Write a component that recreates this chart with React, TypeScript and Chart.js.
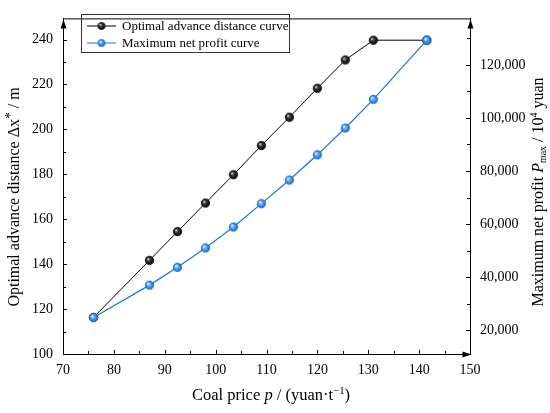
import React, { useEffect, useRef } from "react";
import { Chart, registerables } from "chart.js";

Chart.register(...registerables);

const coalPrice = [76, 87, 92.5, 98, 103.5, 109, 114.5, 120, 125.5, 131, 141.5];
const advanceDistance = [116.3, 141.7, 154.5, 167.2, 179.8, 192.8, 205.4, 218.3, 230.9, 239.7, 239.7];
const netProfit = [24800, 37000, 43700, 51000, 58900, 67700, 76600, 86100, 96200, 107000, 129300];

const xTicks = [70, 80, 90, 100, 110, 120, 130, 140, 150];
const leftTicks = [100, 120, 140, 160, 180, 200, 220, 240];
const rightTicks = [20000, 40000, 60000, 80000, 100000, 120000];

const seriesNames = ["Optimal advance distance curve", "Maximum net profit curve"];

const SERIF = '"Liberation Serif", "Times New Roman", serif';
const BLUE_LINE = "#1b74d6";

function makeSphere(kind: "black" | "blue", r: number): HTMLCanvasElement {
  const c = document.createElement("canvas");
  const s = Math.ceil(r * 2 + 2);
  c.width = s;
  c.height = s;
  const ctx = c.getContext("2d")!;
  const cx = s / 2;
  const cy = s / 2;
  const g = ctx.createRadialGradient(cx - r * 0.35, cy - r * 0.35, r * 0.1, cx, cy, r);
  if (kind === "black") {
    g.addColorStop(0, "#d0d0d0");
    g.addColorStop(0.3, "#444");
    g.addColorStop(1, "#000");
  } else {
    g.addColorStop(0, "#e8f4ff");
    g.addColorStop(0.35, "#5fb0f5");
    g.addColorStop(1, "#1767c8");
  }
  ctx.beginPath();
  ctx.arc(cx, cy, r, 0, Math.PI * 2);
  ctx.fillStyle = g;
  ctx.fill();
  ctx.lineWidth = 0.8;
  ctx.strokeStyle = kind === "black" ? "#111" : "#1d6fc9";
  ctx.stroke();
  return c;
}

type Seg = { t: string; italic?: boolean; scale?: number; dy?: number };

function drawSegs(ctx: CanvasRenderingContext2D, segs: Seg[], size: number, cx: number, cy: number, rot: number) {
  ctx.save();
  ctx.translate(cx, cy);
  ctx.rotate(rot);
  ctx.textBaseline = "middle";
  ctx.textAlign = "left";
  ctx.fillStyle = "#000";
  const fontOf = (s: Seg) => `${s.italic ? "italic " : ""}${size * (s.scale || 1)}px ${SERIF}`;
  let total = 0;
  for (const s of segs) {
    ctx.font = fontOf(s);
    total += ctx.measureText(s.t).width;
  }
  let x = -total / 2;
  for (const s of segs) {
    ctx.font = fontOf(s);
    ctx.fillText(s.t, x, (s.dy || 0) * size);
    x += ctx.measureText(s.t).width;
  }
  ctx.restore();
}

export default function App() {
  const ref = useRef<HTMLCanvasElement | null>(null);

  useEffect(() => {
    if (!ref.current) return;
    const blackSphere = makeSphere("black", 4.2);
    const blueSphere = makeSphere("blue", 4.2);
    const blackSmall = makeSphere("black", 3.6);
    const blueSmall = makeSphere("blue", 3.6);

    const decor = {
      id: "decor",
      afterDraw(chart: any) {
        const ctx: CanvasRenderingContext2D = chart.ctx;
        const a = chart.chartArea;
        const xs = chart.scales.x;
        const yl = chart.scales.y;
        const yr = chart.scales.y1;
        ctx.save();
        ctx.strokeStyle = "#000";
        ctx.fillStyle = "#000";
        ctx.lineWidth = 1;
        ctx.beginPath();
        ctx.moveTo(a.left, a.top + 0.5);
        ctx.lineTo(a.right, a.top + 0.5);
        ctx.stroke();
        const tick = (x1: number, y1: number, x2: number, y2: number) => {
          ctx.beginPath();
          ctx.moveTo(x1, y1);
          ctx.lineTo(x2, y2);
          ctx.stroke();
        };
        for (let v = 70; v < 150; v += 5) {
          const px = Math.round(xs.getPixelForValue(v)) + 0.5;
          const len = v % 10 === 0 ? 4 : 3;
          tick(px, a.bottom, px, a.bottom - len);
        }
        for (let v = 100; v <= 245; v += 10) {
          const py = Math.round(yl.getPixelForValue(v)) + 0.5;
          const len = v % 20 === 0 ? 4 : 3;
          tick(a.left, py, a.left + len, py);
        }
        for (let v = 20000; v <= 135000; v += 10000) {
          const py = Math.round(yr.getPixelForValue(v)) + 0.5;
          const len = v % 20000 === 0 ? 4 : 3;
          tick(a.right, py, a.right - len, py);
        }
        const tri = (p: number[][]) => {
          ctx.beginPath();
          ctx.moveTo(p[0][0], p[0][1]);
          ctx.lineTo(p[1][0], p[1][1]);
          ctx.lineTo(p[2][0], p[2][1]);
          ctx.closePath();
          ctx.fill();
        };
        const L = a.left + 0.5;
        const R = a.right + 0.5;
        const T = a.top + 1;
        const B = a.bottom + 0.5;
        tri([[L, T], [L - 3, T + 9], [L + 3, T + 9]]);
        tri([[R, T], [R - 3, T + 9], [R + 3, T + 9]]);
        tri([[R + 1, B], [R - 8, B - 3], [R - 8, B + 3]]);

        const lx = 81.5, ly = 14.5, lw = 208, lh = 38;
        ctx.strokeStyle = "#333";
        ctx.strokeRect(lx, ly, lw, lh);
        const rows = [
          { y: 26, color: "#000", img: blackSmall, name: seriesNames[0] },
          { y: 43, color: BLUE_LINE, img: blueSmall, name: seriesNames[1] },
        ];
        ctx.font = `13px ${SERIF}`;
        ctx.textBaseline = "middle";
        ctx.textAlign = "left";
        for (const r of rows) {
          ctx.strokeStyle = r.color;
          ctx.beginPath();
          ctx.moveTo(87, r.y);
          ctx.lineTo(116, r.y);
          ctx.stroke();
          ctx.drawImage(r.img, 101.5 - r.img.width / 2, r.y - r.img.height / 2);
          ctx.fillStyle = "#000";
          ctx.fillText(r.name, 122, r.y + 0.5);
        }

        drawSegs(ctx, [
          { t: "Optimal advance distance \u0394x" },
          { t: "*", scale: 0.85, dy: -0.25 },
          { t: " / m" },
        ], 16, 15, 197, -Math.PI / 2);
        drawSegs(ctx, [
          { t: "Coal price " },
          { t: "p", italic: true },
          { t: " / (yuan\u00b7t" },
          { t: "\u22121", scale: 0.65, dy: -0.3 },
          { t: ")" },
        ], 16.5, 271, 396, 0);
        drawSegs(ctx, [
          { t: "Maximum net profit " },
          { t: "P", italic: true },
          { t: "max", scale: 0.62, dy: 0.25 },
          { t: " / 10" },
          { t: "4", scale: 0.62, dy: -0.3 },
          { t: " yuan" },
        ], 16, 539, 192, -Math.PI / 2);
        ctx.restore();
      },
    };

    const tickFont = { family: SERIF, size: 14 };
    const chart = new Chart(ref.current, {
      type: "line",
      data: {
        datasets: [
          {
            label: seriesNames[0],
            data: coalPrice.map((x, i) => ({ x, y: advanceDistance[i] })),
            yAxisID: "y",
            order: 2,
            borderColor: "#000",
            borderWidth: 1,
            pointStyle: blackSphere as any,
            pointRadius: 4.2,
            tension: 0,
            fill: false,
          },
          {
            label: seriesNames[1],
            data: coalPrice.map((x, i) => ({ x, y: netProfit[i] })),
            yAxisID: "y1",
            order: 1,
            borderColor: BLUE_LINE,
            borderWidth: 1.2,
            pointStyle: blueSphere as any,
            pointRadius: 4.2,
            tension: 0,
            fill: false,
          },
        ],
      },
      options: {
        animation: false,
        responsive: false,
        maintainAspectRatio: false,
        layout: { padding: { top: 5, left: 0, right: 0, bottom: 0 } },
        plugins: { legend: { display: false }, tooltip: { enabled: false } },
        scales: {
          x: {
            type: "linear",
            min: 70,
            max: 150,
            afterBuildTicks: (s: any) => { s.ticks = xTicks.map((v) => ({ value: v })); },
            afterFit: (s: any) => { s.height = 59; },
            ticks: { font: tickFont, color: "#000", padding: 8, maxRotation: 0 },
            grid: { display: false, drawTicks: false },
            border: { display: true, color: "#000", width: 1 },
          },
          y: {
            type: "linear",
            position: "left",
            min: 100,
            max: 249.4,
            afterBuildTicks: (s: any) => { s.ticks = leftTicks.map((v) => ({ value: v })); },
            afterFit: (s: any) => { s.width = 63; },
            ticks: { font: tickFont, color: "#000", padding: 10 },
            grid: { display: false, drawTicks: false },
            border: { display: true, color: "#000", width: 1 },
          },
          y1: {
            type: "linear",
            position: "right",
            min: 11050,
            max: 137500,
            afterBuildTicks: (s: any) => { s.ticks = rightTicks.map((v) => ({ value: v })); },
            afterFit: (s: any) => { s.width = 80; },
            ticks: {
              font: tickFont,
              color: "#000",
              padding: 10,
              callback: (v: any) => Number(v).toLocaleString("en-US"),
            },
            grid: { display: false, drawTicks: false },
            border: { display: true, color: "#000", width: 1 },
          },
        },
      },
      plugins: [decor],
    } as any);
    return () => chart.destroy();
  }, []);

  return (
    <div style={{ position: "absolute", left: 0, top: 0, width: 550, height: 413, background: "#fff" }}>
      <canvas ref={ref} width={550} height={413} style={{ width: 550, height: 413, display: "block" }} />
    </div>
  );
}
